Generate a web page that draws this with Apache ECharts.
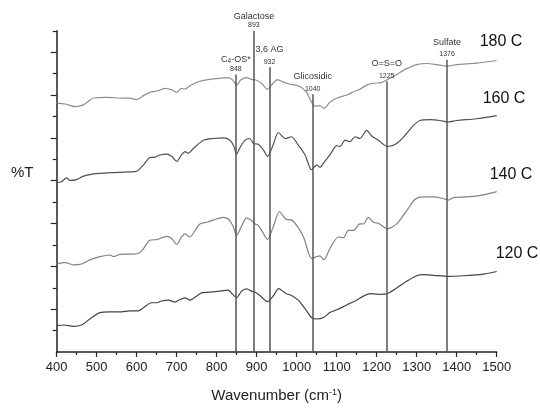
<!DOCTYPE html>
<html>
<head>
<meta charset="utf-8">
<script src="https://cdn.jsdelivr.net/npm/echarts@6/dist/echarts.min.js"></script>
<style>
  html, body { margin: 0; padding: 0; background: #ffffff; }
  #chart { width: 540px; height: 408px; }
</style>
</head>
<body>
<div id="chart"></div>
<script>
// FTIR spectra (offset %T) for four treatment temperatures
const seriesNames = ['180 C', '160 C', '140 C', '120 C'];

const t180 = [[400,11.62],[421,11.58],[446,11.46],[467,11.54],[492,11.86],[525,11.89],[558,11.86],[583,11.85],[600,11.78],[617,11.97],[633,12.12],[654,12.20],[671,12.31],[688,12.24],[700,12.12],[712,12.31],[721,12.27],[733,12.43],[758,12.64],[783,12.73],[808,12.78],[829,12.81],[840,12.70],[850,12.46],[860,12.70],[875,12.81],[887,12.73],[898,12.70],[912,12.55],[927,12.27],[941,12.55],[952,12.72],[967,12.60],[983,12.50],[1008,12.40],[1025,12.12],[1037,11.66],[1046,11.48],[1058,11.50],[1068,11.38],[1083,11.66],[1100,11.85],[1125,12.00],[1142,12.15],[1158,12.27],[1175,12.46],[1192,12.55],[1212,12.58],[1227,12.72],[1250,12.96],[1275,13.23],[1300,13.42],[1325,13.47],[1350,13.42],[1376,13.35],[1400,13.42],[1450,13.49],[1500,13.61]];

const t160 = [[400,7.90],[412,7.95],[425,8.13],[433,8.01],[450,8.05],[467,8.21],[492,8.32],[525,8.36],[558,8.39],[583,8.41],[600,8.44],[617,8.74],[633,9.08],[646,9.10],[658,9.20],[675,9.24],[688,9.13],[700,8.90],[712,9.20],[721,9.36],[729,9.28],[742,9.51],[767,9.89],[792,9.97],[817,10.00],[833,9.89],[842,9.64],[850,9.24],[858,9.54],[871,9.89],[882,9.97],[892,9.74],[904,9.70],[917,9.43],[927,9.13],[941,9.66],[954,10.25],[971,9.97],[987,10.05],[1004,9.66],[1021,9.20],[1037,8.51],[1050,8.74],[1058,8.62],[1067,8.82],[1083,9.20],[1100,9.64],[1108,9.59],[1121,9.89],[1133,9.82],[1146,10.05],[1158,9.97],[1175,10.35],[1187,10.10],[1204,9.89],[1227,9.59],[1250,9.74],[1271,10.12],[1292,10.58],[1308,10.81],[1333,10.85],[1358,10.81],[1379,10.74],[1400,10.81],[1450,10.89],[1500,11.04]];

const t140 = [[400,4.11],[421,4.17],[442,4.07],[462,4.11],[483,4.30],[508,4.45],[533,4.53],[542,4.45],[558,4.56],[583,4.57],[604,4.60],[617,4.83],[633,5.22],[650,5.25],[675,5.40],[688,5.29],[700,5.02],[712,5.37],[721,5.52],[733,5.37],[746,5.68],[758,5.98],[775,6.06],[792,6.17],[817,6.29],[829,6.21],[840,5.91],[850,5.45],[861,5.83],[875,6.26],[887,6.14],[896,5.98],[904,5.91],[917,5.52],[927,5.25],[941,5.83],[957,6.56],[973,6.20],[987,6.17],[1000,5.91],[1017,5.37],[1037,4.37],[1050,4.45],[1058,4.49],[1068,4.30],[1083,4.83],[1104,5.37],[1117,5.34],[1129,5.68],[1142,5.68],[1158,5.98],[1167,5.98],[1179,6.29],[1192,6.06],[1204,6.01],[1227,5.75],[1250,5.98],[1275,6.60],[1296,7.13],[1317,7.24],[1342,7.24],[1363,7.18],[1379,7.09],[1392,7.21],[1425,7.24],[1467,7.34],[1500,7.49]];

const t120 = [[400,1.23],[417,1.26],[442,1.20],[462,1.26],[483,1.54],[508,1.84],[533,1.87],[558,1.87],[583,1.92],[604,1.92],[617,2.07],[637,2.30],[650,2.30],[662,2.38],[679,2.42],[696,2.33],[708,2.45],[721,2.53],[733,2.42],[750,2.61],[762,2.76],[792,2.81],[817,2.87],[829,2.89],[840,2.69],[850,2.53],[862,2.84],[875,2.95],[887,2.84],[896,2.79],[908,2.64],[927,2.35],[941,2.61],[955,2.96],[973,2.73],[987,2.64],[1004,2.42],[1021,2.02],[1037,1.61],[1050,1.54],[1067,1.61],[1083,1.84],[1100,1.97],[1117,2.12],[1133,2.27],[1150,2.42],[1167,2.61],[1183,2.73],[1204,2.69],[1227,2.73],[1250,2.99],[1275,3.30],[1300,3.56],[1317,3.61],[1342,3.58],[1379,3.53],[1417,3.56],[1467,3.64],[1500,3.76]];

// Assigned absorption bands (cm-1) and their labels
const bandWavenumbers = [848, 893, 932, 1040, 1225, 1376];
const bandNames = ['{nt|C}{sub|4}{nt|-OS*}', '{nt|Galactose}', '{n|3,6 AG}', '{n|Glicosidic}', '{n|O=S=O}', '{n|Sulfate}'];
const bandTops = [12.96, 15.0, 13.29, 12.04, 12.64, 13.65];

// Axis ranges
const xMin = 400, xMax = 1500, xStep = 100;
const yMin = 0, yMax = 15;
const yMajorTicks = [2, 4, 6, 8, 10, 12, 14];
const yMinorTicks = [1, 3, 5, 7, 9, 11, 13, 15];

const spectra = [t180, t160, t140, t120];
const lineColors = ['#8e8e8e', '#505050', '#828282', '#444444'];
const endOffsets = [[-17, -19], [-14, -17], [-7, -17], [-1, -18]];

const FONT = '"Liberation Sans", Arial, sans-serif';
const chart = echarts.init(document.getElementById('chart'), null, { renderer: 'canvas' });

const bandLines = bandWavenumbers.map((w, i) => [
  { coord: [w, yMin], label: { formatter: bandNames[i] + '\n{v|' + w + '}' } },
  { coord: [w, bandTops[i]] }
]);

const series = spectra.map((data, i) => ({
  name: seriesNames[i],
  type: 'line',
  data: data,
  showSymbol: false,
  symbol: 'none',
  smooth: 0.25,
  clip: false,
  z: 3,
  lineStyle: { color: lineColors[i], width: 1.2 },
  endLabel: {
    show: true,
    formatter: '{a}',
    fontFamily: FONT,
    fontSize: 16,
    color: '#111',
    align: 'left',
    verticalAlign: 'middle',
    distance: 0,
    offset: endOffsets[i]
  }
}));

series[0].markLine = {
  silent: true,
  symbol: ['none', 'none'],
  animation: false,
  lineStyle: { color: '#555555', width: 1.5, type: 'solid' },
  label: {
    show: true,
    position: 'end',
    distance: 1,
    align: 'center',
    fontFamily: FONT,
    color: '#333',
    rich: {
      n: { fontSize: 9, lineHeight: 15, fontFamily: FONT, color: '#333' },
      nt: { fontSize: 9, lineHeight: 9, fontFamily: FONT, color: '#333' },
      sub: { fontSize: 6.5, lineHeight: 9, verticalAlign: 'bottom', padding: [4, 0, 0, 0], fontFamily: FONT, color: '#333' },
      v: { fontSize: 7, lineHeight: 9, fontFamily: FONT, color: '#333' }
    }
  },
  data: bandLines
};

chart.setOption({
  animation: false,
  backgroundColor: '#ffffff',
  grid: { left: 56.7, right: 43.3, top: 30.75, bottom: 51.3, containLabel: false },
  xAxis: {
    type: 'value',
    min: xMin,
    max: xMax,
    interval: xStep,
    name: 'Wavenumber (cm{sup|-1})',
    nameLocation: 'middle',
    nameGap: 36,
    nameTextStyle: {
      fontFamily: FONT, fontSize: 15, color: '#222',
      rich: { sup: { fontSize: 9, verticalAlign: 'top', fontFamily: FONT, color: '#222' } }
    },
    axisLine: { show: true, onZero: false, lineStyle: { color: '#222', width: 1.5 } },
    axisTick: { show: true, inside: false, length: 5, lineStyle: { color: '#222', width: 1.2 } },
    minorTick: { show: true, splitNumber: 2, length: 3, lineStyle: { color: '#222', width: 1.2 } },
    axisLabel: { fontFamily: FONT, fontSize: 13, color: '#222', margin: 9, formatter: (v) => String(v) },
    splitLine: { show: false }
  },
  yAxis: [
    {
      type: 'value',
      min: yMin,
      max: yMax,
      interval: 1,
      position: 'left',
      axisLine: { show: true, onZero: false, lineStyle: { color: '#222', width: 1.5 } },
      axisTick: { show: true, length: 6, customValues: yMajorTicks, lineStyle: { color: '#222', width: 1.2 } },
      axisLabel: { show: false },
      splitLine: { show: false }
    },
    {
      type: 'value',
      min: yMin,
      max: yMax,
      interval: 1,
      position: 'left',
      offset: 0,
      axisLine: { show: false },
      axisTick: { show: true, length: 4, customValues: yMinorTicks, lineStyle: { color: '#222', width: 1.2 } },
      axisLabel: { show: false },
      splitLine: { show: false }
    }
  ],
  graphic: [
    {
      type: 'text',
      left: 11,
      top: 165,
      style: { text: '%T', font: '15px ' + FONT, fill: '#222' }
    }
  ],
  series: series
});
</script>
</body>
</html>
